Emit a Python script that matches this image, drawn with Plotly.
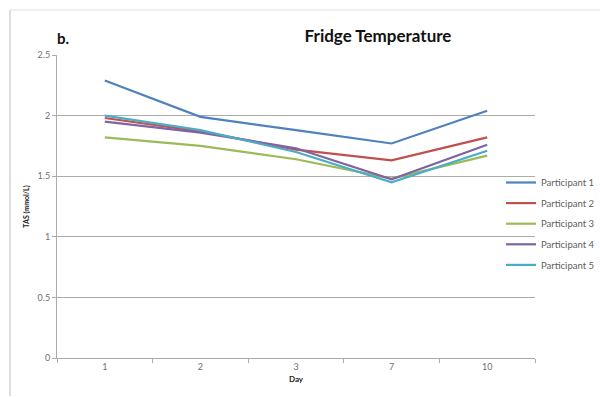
import plotly.graph_objects as go

# Days on which TAS was measured (category axis)
days = ["1", "2", "3", "7", "10"]

# TAS (mmol/L) per participant, fridge-stored samples
participant_1 = [2.29, 1.99, 1.88, 1.77, 2.04]
participant_2 = [1.98, 1.87, 1.72, 1.63, 1.82]
participant_3 = [1.82, 1.75, 1.64, 1.48, 1.67]
participant_4 = [1.95, 1.86, 1.73, 1.475, 1.76]
participant_5 = [2.00, 1.88, 1.70, 1.45, 1.71]

series = [
    ("Participant 1", participant_1, "#4F81BD"),
    ("Participant 2", participant_2, "#C0504D"),
    ("Participant 3", participant_3, "#9BBB59"),
    ("Participant 4", participant_4, "#8064A2"),
    ("Participant 5", participant_5, "#4BACC6"),
]

W, H = 600, 397
L, R, T, B = 57, 65, 55, 39          # plot area: x 57..535, y 55..358
pw, ph = W - L - R, H - T - B

def px_x(p):
    return (p - L) / pw

def px_y(p):
    return (H - B - p) / ph

fig = go.Figure()

for i, (name, vals, color) in enumerate(series):
    fig.add_trace(go.Scatter(
        x=days, y=vals, name=name, mode="lines",
        line=dict(color=color, width=2.2),
        legendgroup=f"g{i}",
    ))

# category axis carrying tick labels / boundary ticks
fig.add_trace(go.Scatter(
    x=days, y=[None] * len(days), xaxis="x2", mode="lines",
    showlegend=False, hoverinfo="skip",
))

grid_col = "#ABABAB"
lab_font = dict(family="Lato, Open Sans, sans-serif", size=9, color="#707070")

fig.update_layout(
    width=W, height=H,
    margin=dict(l=L, r=R, t=T, b=B, autoexpand=False),
    paper_bgcolor="white", plot_bgcolor="white",
    showlegend=True,
    title=dict(
        text="<b>Fridge Temperature</b>",
        x=378 / W, xanchor="center", xref="container",
        y=1 - 36 / H, yanchor="middle", yref="container",
        font=dict(family="Lato, Open Sans, sans-serif", size=17, color="#111111"),
    ),
    xaxis=dict(
        type="category", categoryorder="array", categoryarray=days,
        range=[-0.5, 4.5], domain=[0, 1],
        showticklabels=False, showline=False, showgrid=False,
        ticks="", zeroline=False,
    ),
    xaxis2=dict(
        type="category", categoryorder="array", categoryarray=days,
        range=[-0.5, 4.5], domain=[0, (521 - L) / pw],
        anchor="y", overlaying="x",
        showline=True, linecolor=grid_col, linewidth=1,
        ticks="outside", tickson="boundaries", ticklen=4, tickcolor=grid_col,
        showgrid=False, zeroline=False,
        tickfont=lab_font,
        title=dict(text="<b>Day</b>", standoff=5,
                   font=dict(family="Lato, Open Sans, sans-serif", size=8, color="#222222")),
    ),
    yaxis=dict(
        range=[0, 2.5], dtick=0.5,
        showgrid=True, gridcolor=grid_col, gridwidth=1,
        showline=True, linecolor=grid_col, linewidth=1,
        ticks="outside", ticklen=4, tickcolor=grid_col,
        zeroline=False, tickfont=lab_font,
        title=dict(text="<b>TAS (mmol/L)</b>", standoff=7,
                   font=dict(family="Lato, Open Sans, sans-serif", size=7, color="#222222")),
    ),
    legend=dict(
        x=px_x(501), xanchor="left",
        y=px_y(168), yanchor="top",
        bgcolor="rgba(0,0,0,0)",
        font=dict(family="Lato, Open Sans, sans-serif", size=9.5, color="#606060"),
        tracegroupgap=1.6,
        itemwidth=30,
    ),
    annotations=[
        dict(text="<b>b.</b>", x=px_x(55), y=px_y(38),
             xref="paper", yref="paper", xanchor="left", yanchor="middle",
             showarrow=False,
             font=dict(family="Lato, Open Sans, sans-serif", size=15, color="#111111")),
    ],
    shapes=[
        # outer chart frame (left and top edges)
        dict(type="line", xref="paper", yref="paper",
             x0=px_x(10), x1=px_x(10), y0=px_y(10), y1=px_y(396),
             line=dict(color="#BDBDBD", width=1)),
        dict(type="line", xref="paper", yref="paper",
             x0=px_x(10), x1=px_x(600), y0=px_y(10), y1=px_y(10),
             line=dict(color="#E0E0E0", width=1)),
    ],
)

fig.write_html("out.html")
